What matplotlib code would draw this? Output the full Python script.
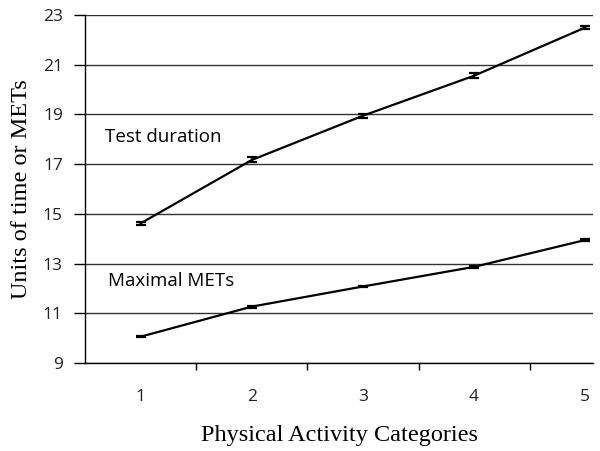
import numpy as np
import matplotlib
matplotlib.use("Agg")
import matplotlib.pyplot as plt

categories = [1, 2, 3, 4, 5]
test_duration = [14.62, 17.17, 18.95, 20.56, 22.50]
test_duration_err = [0.06, 0.10, 0.08, 0.11, 0.08]
maximal_mets = [10.06, 11.27, 12.08, 12.87, 13.95]
maximal_mets_err = [0.03, 0.04, 0.04, 0.04, 0.05]
y_ticks = [9, 11, 13, 15, 17, 19, 21, 23]

fig = plt.figure(figsize=(6, 4.51), dpi=100)
ax = fig.add_axes([0.1417, 0.195, 0.8467, 0.7716])

for vals, errs in [(test_duration, test_duration_err), (maximal_mets, maximal_mets_err)]:
    ax.errorbar(categories, vals, yerr=errs, color="black", lw=1.6,
                ecolor="black", elinewidth=1.2, capsize=3.5, capthick=1.6)

ax.set_ylim(9, 23)
ax.set_xlim(0.5, 5.07)
ax.set_yticks(y_ticks)
ax.set_yticklabels([str(t) for t in y_ticks], fontfamily="Open Sans", fontsize=12.5, color="#222222")
ax.set_xticks(categories)
ax.set_xticklabels([str(c) for c in categories], fontfamily="Open Sans", fontsize=12.5, color="#222222")
ax.tick_params(axis="x", length=0, pad=19)
ax.tick_params(axis="y", length=8, width=1, pad=8)
ax.set_xticks([1.5, 2.5, 3.5, 4.5], minor=True)
ax.tick_params(axis="x", which="minor", length=5, width=1, direction="out")

ax.yaxis.grid(True, color="#333333", lw=1)
ax.set_axisbelow(True)
for s in ["top", "right"]:
    ax.spines[s].set_visible(False)
ax.spines["left"].set_linewidth(1)
ax.spines["bottom"].set_linewidth(1)

ax.set_ylabel("Units of time or METs", fontfamily="Liberation Serif", fontsize=17.5, labelpad=8)
ax.set_xlabel("Physical Activity Categories", fontfamily="Liberation Serif", fontsize=17.5, labelpad=14)

ax.text(0.68, 18.1, "Test duration", fontfamily="Open Sans", fontsize=13.5, va="center")
ax.text(0.71, 12.3, "Maximal METs", fontfamily="Open Sans", fontsize=13.5, va="center")

fig.savefig("out.png", dpi=100)
